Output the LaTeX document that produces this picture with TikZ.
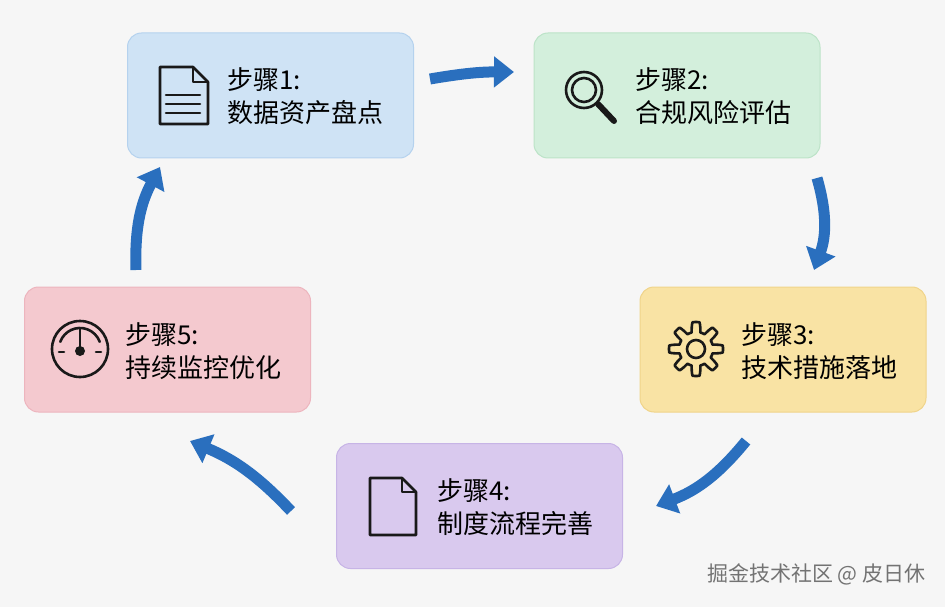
\documentclass[tikz,border=0pt]{standalone}
\usepackage{fontspec}
\setmainfont{Noto Sans CJK SC}
\usetikzlibrary{arrows.meta}
\definecolor{bg}{HTML}{F6F6F6}
\definecolor{arr}{HTML}{2A6FBE}
\definecolor{f1}{HTML}{CFE3F5}\definecolor{d1}{HTML}{B5D2EE}
\definecolor{f2}{HTML}{D3EFDC}\definecolor{d2}{HTML}{BCE3C8}
\definecolor{f3}{HTML}{F9E3A4}\definecolor{d3}{HTML}{F0D48A}
\definecolor{f4}{HTML}{D9C9EE}\definecolor{d4}{HTML}{C7B4E6}
\definecolor{f5}{HTML}{F4C9CF}\definecolor{d5}{HTML}{EDB5BE}
\tikzset{
 stepbox/.style={rounded corners=14pt,line width=1pt,minimum width=286pt,minimum height=125pt},
 lbl/.style={align=left,anchor=west,font=\fontsize{26}{33}\selectfont,text=black},
 ic/.style={line width=2.6pt,line cap=round,line join=round,black!90},
 flow/.style={line width=11pt,draw=arr,-{Triangle[length=20pt,width=30pt]}},
}
\begin{document}
\begin{tikzpicture}[x=1pt,y=-1pt]
\fill[bg] (0,0) rectangle (945,607);
\useasboundingbox (0,0) rectangle (945,607);
\node[stepbox,fill=f1,draw=d1] (b1) at (270.5,95.5) {};
\node[stepbox,fill=f2,draw=d2] (b2) at (677,95.5) {};
\node[stepbox,fill=f3,draw=d3] (b3) at (783,349.5) {};
\node[stepbox,fill=f4,draw=d4] (b4) at (479.5,506) {};
\node[stepbox,fill=f5,draw=d5] (b5) at (167.5,349.5) {};
\node[lbl] (t1) at (224,96) {步骤1:\\数据资产盘点};
\node[lbl] (t2) at (632,96) {步骤2:\\合规风险评估};
\node[lbl] (t3) at (738,351) {步骤3:\\技术措施落地};
\node[lbl] (t4) at (434,507) {步骤4:\\制度流程完善};
\node[lbl] (t5) at (122,351) {步骤5:\\持续监控优化};
% icon 1 document
\draw[ic] (160,67)--(193,67)--(208,82)--(208,124)--(160,124)--cycle;
\draw[ic] (193,67)--(193,82)--(208,82);
\draw[ic] (166,95)--(200,95) (166,104)--(200,104) (166,113)--(200,113);
% icon 2 magnifier
\draw[ic] (584,90) circle (18);
\draw[ic] (584,90) circle (12);
\draw[ic,line width=6pt] (598,104)--(614,121);
% icon 3 gear
\begin{scope}[shift={(696,349)}]
\draw[ic] (0,0) circle (9);
\draw[ic] plot[smooth cycle,samples=97,domain=0:360,variable=\t] ({(22+5*tanh(6*cos(8*\t)))*cos(\t)},{(22+5*tanh(6*cos(8*\t)))*sin(\t)});
\end{scope}
% icon 4 document
\draw[ic] (370,478)--(402,478)--(416,492)--(416,535)--(370,535)--cycle;
\draw[ic] (402,478)--(402,492)--(416,492);
% icon 5 gauge
\begin{scope}[shift={(80,349)}]
\draw[ic] (0,0) circle (28);
\draw[ic] (200:21) arc (200:340:21);
\draw[ic] (0,-20)--(0,2);
\fill[black!90] (0,2) circle (5);
\draw[ic] (-21,3)--(-16,3) (16,3)--(21,3);
\end{scope}
% arrows
\coordinate (a1s) at (430,79); \coordinate (a1e) at (514,72);
\coordinate (a2s) at (817,178); \coordinate (a2e) at (814,270);
\coordinate (a3s) at (746,441); \coordinate (a3e) at (656,506);
\coordinate (a4s) at (291,511); \coordinate (a4e) at (190,441);
\coordinate (a5s) at (136,270); \coordinate (a5e) at (160,167);
\draw[flow] (a1s) to[bend left=5] (a1e);
\draw[flow] (a2s) to[bend left=18] (a2e);
\draw[flow] (a3s) to[bend left=15] (a3e);
\draw[flow] (a4s) to[bend right=12] (a4e);
\draw[flow] (a5s) to[bend left=15] (a5e);
\node[anchor=east,font=\fontsize{21}{24}\selectfont,text=black!55] (wm) at (929,574) {掘金技术社区 @ 皮日休};
\end{tikzpicture}
\end{document}
